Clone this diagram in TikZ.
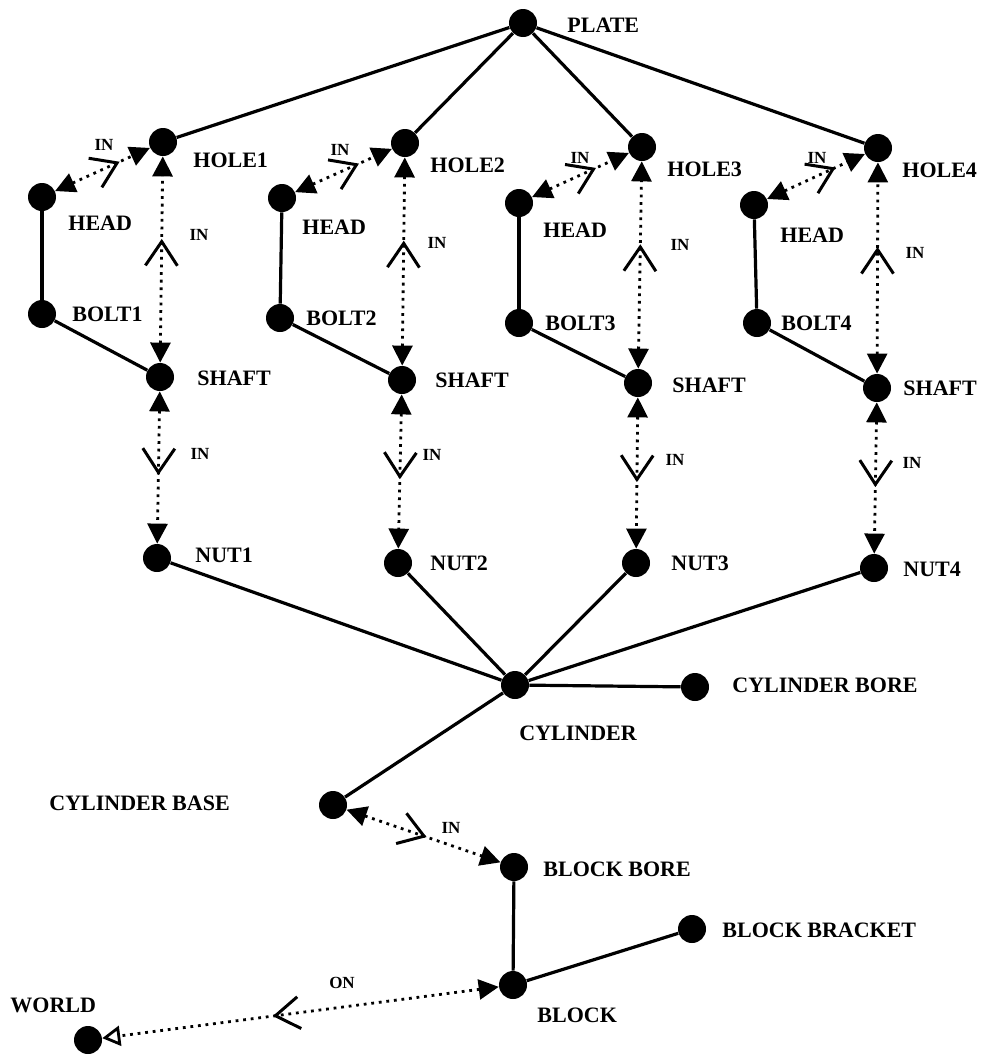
\documentclass[tikz,border=0pt]{standalone}
\usepackage{fontspec}
\setmainfont{Liberation Serif}
\usetikzlibrary{arrows.meta}
\usetikzlibrary{decorations.markings}

\begin{document}
\begin{tikzpicture}[x=0.5pt,y=-0.5pt,
    tag/.style={font=\bfseries\fontsize{11}{13}\selectfont, anchor=west, inner sep=0pt},
    rel/.style={font=\bfseries\fontsize{8.5}{10}\selectfont, inner sep=0pt}]

    \useasboundingbox (0,0) rectangle (982,1055);

    % Parts, one black dot each (coordinates in pixels, y going down)
    \begin{scope}[every node/.style={circle,fill=black,minimum size=14pt,inner sep=0pt}]
    \node (P) at (523,23) {};
    % bolt 1
    \node (h1) at (163,142) {};
    \node (hd1) at (42,197) {};
    \node (b1) at (42,314) {};
    \node (s1) at (160,377) {};
    \node (n1) at (157,558) {};
    % bolt 2
    \node (h2) at (405,143) {};
    \node (hd2) at (282,198) {};
    \node (b2) at (280,318) {};
    \node (s2) at (402,380) {};
    \node (n2) at (398,563) {};
    % bolt 3
    \node (h3) at (642,147) {};
    \node (hd3) at (519,203) {};
    \node (b3) at (519,323) {};
    \node (s3) at (638,383) {};
    \node (n3) at (636,563) {};
    % bolt 4
    \node (h4) at (878,148) {};
    \node (hd4) at (754,205) {};
    \node (b4) at (757,323) {};
    \node (s4) at (877,388) {};
    \node (n4) at (874,568) {};
    % cylinder and block
    \node (C) at (515,685) {};
    \node (Cbore) at (695,687) {};
    \node (Cbase) at (333,805) {};
    \node (Bbore) at (514,867) {};
    \node (Bbr) at (692,929) {};
    \node (B) at (513,985) {};
    \node (W) at (88,1040) {};
    \end{scope}

    % Names of the parts
    \node[tag] (Pt) at (567,25) {PLATE};
    \node[tag] (h1t) at (193,160) {HOLE1};
    \node[tag] (hd1t) at (68,223) {HEAD};
    \node[tag] (b1t) at (72,314) {BOLT1};
    \node[tag] (s1t) at (197,378) {SHAFT};
    \node[tag] (n1t) at (195,555) {NUT1};
    \node[tag] (h2t) at (430,165) {HOLE2};
    \node[tag] (hd2t) at (302,227) {HEAD};
    \node[tag] (b2t) at (306,318) {BOLT2};
    \node[tag] (s2t) at (435,380) {SHAFT};
    \node[tag] (n2t) at (430,563) {NUT2};
    \node[tag] (h3t) at (667,169) {HOLE3};
    \node[tag] (hd3t) at (543,230) {HEAD};
    \node[tag] (b3t) at (545,323) {BOLT3};
    \node[tag] (s3t) at (672,385) {SHAFT};
    \node[tag] (n3t) at (671,563) {NUT3};
    \node[tag] (h4t) at (902,170) {HOLE4};
    \node[tag] (hd4t) at (780,235) {HEAD};
    \node[tag] (b4t) at (781,323) {BOLT4};
    \node[tag] (s4t) at (903,388) {SHAFT};
    \node[tag] (n4t) at (903,569) {NUT4};
    \node[tag] (Ct) at (519,733) {CYLINDER};
    \node[tag] (Cboret) at (732,685) {CYLINDER BORE};
    \node[tag] (Cbaset) at (49,803) {CYLINDER BASE};
    \node[tag] (Bboret) at (543,869) {BLOCK BORE};
    \node[tag] (Bbrt) at (722,930) {BLOCK BRACKET};
    \node[tag] (Bt) at (537,1015) {BLOCK};
    \node[tag] (Wt) at (10,1005) {WORLD};

    % Relation names
    \node[rel] (r1a) at (104,145) {IN};
    \node[rel] (r1b) at (199,235) {IN};
    \node[rel] (r1c) at (200,454) {IN};
    \node[rel] (r2a) at (340,150) {IN};
    \node[rel] (r2b) at (437,243) {IN};
    \node[rel] (r2c) at (432,455) {IN};
    \node[rel] (r3a) at (580,158) {IN};
    \node[rel] (r3b) at (680,245) {IN};
    \node[rel] (r3c) at (675,460) {IN};
    \node[rel] (r4a) at (817,158) {IN};
    \node[rel] (r4b) at (915,253) {IN};
    \node[rel] (r4c) at (912,463) {IN};
    \node[rel] (rc) at (451,828) {IN};
    \node[rel] (rw) at (342,983) {ON};

    % Part-of edges (solid) and relations (dotted)
    \begin{scope}[>={Triangle[length=10pt,width=10pt]},
                  every edge/.style={draw=black, line width=1.6pt},
                  link/.style={line width=1.4pt, dash pattern=on 1.4pt off 2.4pt,
                      postaction={decorate, decoration={markings,
                          mark=at position #1 with {\arrow{Straight Barb[length=12pt,width=16pt,line width=1.5pt]}}}}},
                  link/.default=0.6]
    \path (P) edge (h1) edge (h2) edge (h3) edge (h4);
    \path (hd1) edge (b1) (b1) edge (s1);
    \path (hd2) edge (b2) (b2) edge (s2);
    \path (hd3) edge (b3) (b3) edge (s3);
    \path (hd4) edge (b4) (b4) edge (s4);
    \path (C) edge (n1) edge (n2) edge (n3) edge (n4);
    \path (C) edge (Cbore) edge (Cbase);
    \path (Bbore) edge (B) (B) edge (Bbr);

    \path [<->] (hd1) edge[link=0.68] (h1);
    \path [<->] (s1) edge[link=0.6] (h1);
    \path [<->] (s1) edge[link=0.55] (n1);
    \path [<->] (hd2) edge[link=0.66] (h2);
    \path [<->] (s2) edge[link=0.6] (h2);
    \path [<->] (s2) edge[link=0.55] (n2);
    \path [<->] (hd3) edge[link=0.66] (h3);
    \path [<->] (s3) edge[link=0.6] (h3);
    \path [<->] (s3) edge[link=0.56] (n3);
    \path [<->] (hd4) edge[link=0.7] (h4);
    \path [<->] (s4) edge[link=0.6] (h4);
    \path [<->] (s4) edge[link=0.56] (n4);
    \path [<->] (Cbase) edge[link=0.52] (Bbore);
    \path [{Triangle[length=10pt,width=10pt]}-{Triangle[open,length=9pt,width=10pt]}] (B) edge[link=0.57] (W);
    \end{scope}

\end{tikzpicture}
\end{document}
